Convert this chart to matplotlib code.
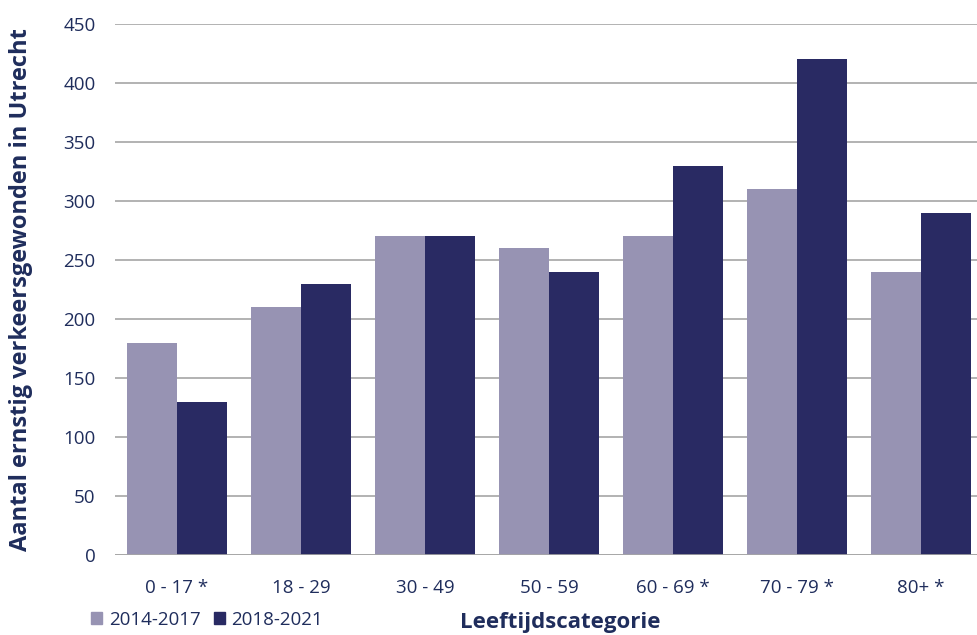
import numpy as np
import matplotlib
matplotlib.use("Agg")
import matplotlib.pyplot as plt
from matplotlib.patches import Patch

# Ernstig verkeersgewonden per leeftijdscategorie, Utrecht
categories = ['0 - 17 *', '18 - 29', '30 - 49', '50 - 59', '60 - 69 *', '70 - 79 *', '80+ *']
period_a = [180, 210, 270, 260, 270, 310, 240]   # 2014-2017
period_b = [130, 230, 270, 240, 330, 420, 290]   # 2018-2021
labels = ['2014-2017', '2018-2021']

light = '#9793B3'
dark = '#292A63'
text_col = '#1F2D5C'

plt.rcParams['font.family'] = ['Open Sans', 'DejaVu Sans']

fig = plt.figure(figsize=(9.77, 6.35), dpi=100)
ax = fig.add_axes([115 / 977, 80 / 635, 868 / 977, 531 / 635])

x = np.arange(len(categories))
w = 50 / 124
ax.bar(x - w / 2, period_a, width=w, color=light, zorder=3)
ax.bar(x + w / 2, period_b, width=w, color=dark, zorder=3)

ax.set_xlim(-0.5, len(categories) - 0.5)
ax.set_ylim(0, 450)
ax.set_yticks(np.arange(0, 451, 50))
ax.yaxis.grid(True, color='#A6A6A6', linewidth=1.2, zorder=0)
ax.set_axisbelow(True)
for s in ax.spines.values():
    s.set_visible(False)
ax.axhline(0, color='#A6A6A6', linewidth=1.2, zorder=4)

ax.set_xticks(x)
ax.set_xticklabels(categories)
ax.tick_params(axis='both', length=0, labelsize=13.5, labelcolor=text_col)
ax.tick_params(axis='y', pad=14)
ax.tick_params(axis='x', pad=17)

fig.text(0.021, 1 - 290 / 635, 'Aantal ernstig verkeersgewonden in Utrecht', rotation=90,
         ha='center', va='center', fontsize=17, fontweight='bold', color=text_col)
fig.text(560 / 977, 2 / 635, 'Leeftijdscategorie', ha='center', va='bottom',
         fontsize=16, fontweight='bold', color=text_col)

handles = [Patch(color=light), Patch(color=dark)]
fig.legend(handles, labels, loc='center left', bbox_to_anchor=(74 / 977, 1 - 620 / 635),
           ncol=2, frameon=False, fontsize=13.5, labelcolor=text_col,
           handlelength=0.6, handleheight=0.6, handletextpad=0.35, columnspacing=0.7)

fig.savefig('out.png', dpi=100)
